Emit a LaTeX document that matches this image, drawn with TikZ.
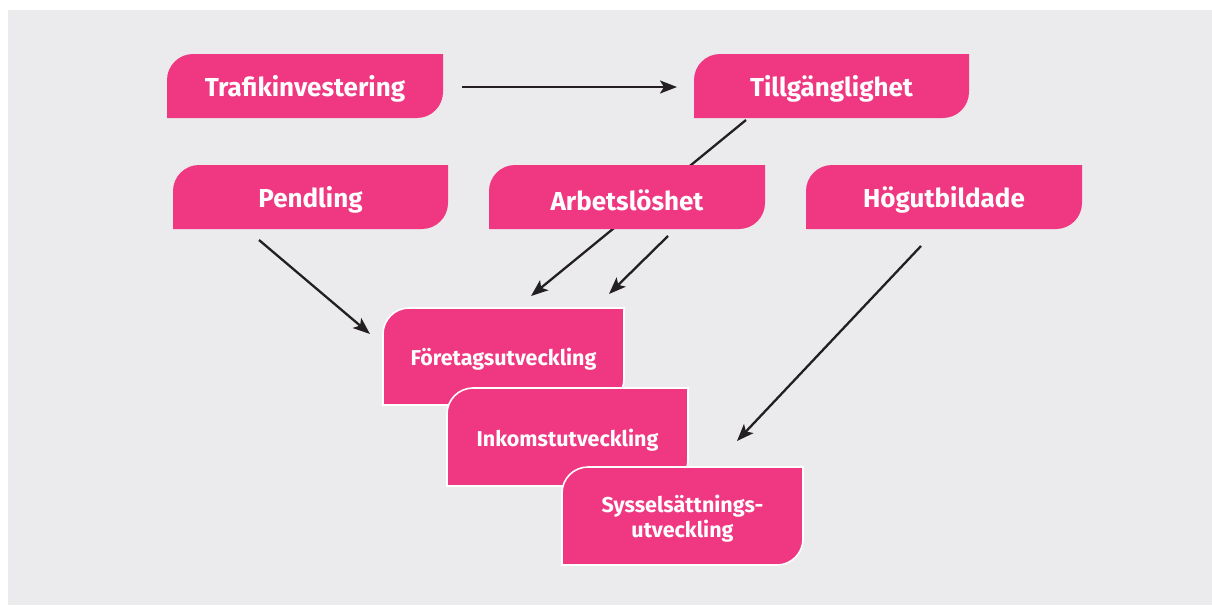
\documentclass[tikz,border=0pt]{standalone}
\usepackage{fontspec}
\setmainfont{Fira Sans}
\usetikzlibrary{arrows.meta}
\definecolor{pk}{RGB}{239,56,129}
\definecolor{bgc}{RGB}{235,235,237}
\definecolor{arc}{RGB}{35,31,32}
% shape path: x1 y1 (top-left) x2 y2 (bottom-right) r
\newcommand\pinkpath[5]{(#1,#4) -- (#1,#2+#5) .. controls (#1,#2+0.45*#5) and (#1+0.45*#5,#2) .. (#1+#5,#2) -- (#3,#2) -- (#3,#4-#5) .. controls (#3,#4-0.45*#5) and (#3-0.45*#5,#4) .. (#3-#5,#4) -- cycle}
% name x1 y1 x2 y2 style text
\newcommand\pinkbox[7]{%
  \path[#6] \pinkpath{#2}{#3}{#4}{#5}{26};
  \node[boxtext, #6text, minimum width={(#4-#2)*1pt}, minimum height={(#5-#3)*1pt}] (#1) at ({(#2+#4)/2},{(#3+#5)/2+3}) {#7};}
\tikzset{
  boxtext/.style={inner sep=0pt, text=white, align=center},
  plain/.style={fill=pk},
  plaintext/.style={font=\fontsize{26}{30}\selectfont\bfseries},
  framed/.style={fill=pk, draw=white, line width=1.6pt},
  framedtext/.style={font=\fontsize{21.5}{25}\selectfont\bfseries},
  conn/.style={draw=arc, line width=2.3pt, -{Stealth[length=17pt, width=13pt, inset=4pt]}},
}
\begin{document}
\begin{tikzpicture}[x=1pt, y=-1pt]
\useasboundingbox (0,0) rectangle (1212,605);
\fill[white] (0,0) rectangle (1212,605);
\fill[bgc] (8,10) rectangle (1212,605);

% connectors (drawn first so boxes cover them)
\coordinate (t1) at (746,120);
\coordinate (t2) at (531,296);
\coordinate (a1) at (668,236);
\coordinate (a2) at (609,294);
\coordinate (p1) at (259,240);
\coordinate (p2) at (370,334);
\coordinate (h1) at (921,246);
\coordinate (h2) at (737,441);
\coordinate (r1) at (462,87);
\coordinate (r2) at (677,87);
\draw[conn] (r1) -- (r2);
\draw[conn] (t1) -- (t2);
\draw[conn] (a1) -- (a2);
\draw[conn] (p1) -- (p2);
\draw[conn] (h1) -- (h2);

\pinkbox{trafik}{167}{54}{443}{118}{plain}{Trafikinvestering}
\pinkbox{tillg}{694}{54}{969}{118}{plain}{Tillgänglighet}
\pinkbox{pendl}{173}{165}{448}{229}{plain}{Pendling}
\pinkbox{arbet}{489}{165}{765}{229}{plain}{Arbetslöshet}
\pinkbox{hogut}{806}{165}{1082}{229}{plain}{Högutbildade}
\pinkbox{foret}{383}{308}{624}{405}{framed}{Företagsutveckling}
\pinkbox{inkom}{447}{388}{688}{486}{framed}{Inkomstutveckling}
\pinkbox{syssel}{562}{467}{803}{565}{framed}{Sysselsättnings-\\utveckling}
\end{tikzpicture}
\end{document}
